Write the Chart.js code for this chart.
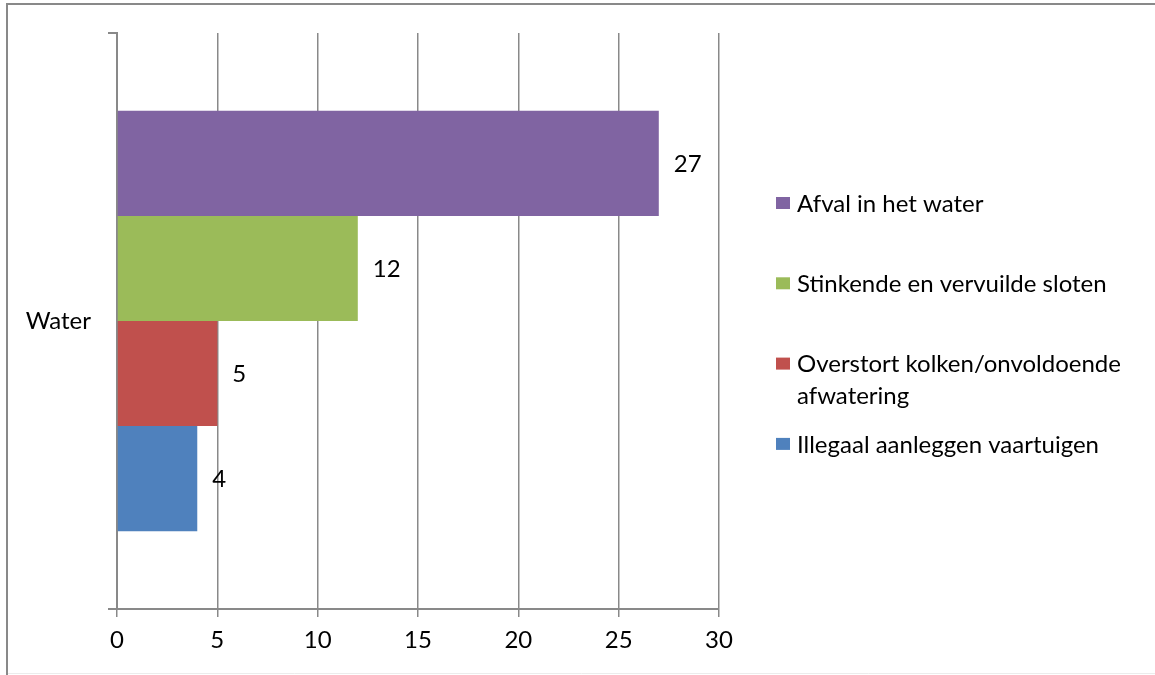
<!DOCTYPE html>
<html>
<head>
<meta charset="utf-8">
<script src="https://cdn.jsdelivr.net/npm/chart.js@4.4.1/dist/chart.umd.min.js"></script>
<style>
  html, body { margin: 0; padding: 0; background: #fff; }
</style>
</head>
<body>
<canvas id="barChart_water" width="1155" height="675"></canvas>
<script>
const categories = ["Water"];
const seriesNames = [
  "Afval in het water",
  "Stinkende en vervuilde sloten",
  "Overstort kolken/onvoldoende afwatering",
  "Illegaal aanleggen vaartuigen",
];
const seriesValues = [27, 12, 5, 4];
const seriesColors = ["#8064A2", "#9BBB59", "#C0504D", "#4F81BD"];
const xTicks = [0, 5, 10, 15, 20, 25, 30];

const AXIS_GREY = "#898989";
const FONT = "Lato, 'Open Sans', sans-serif";
const FONT_SIZE = 24;

Chart.defaults.font.family = FONT;
Chart.defaults.font.size = FONT_SIZE;
Chart.defaults.color = "#000";

// white page with the thin grey frame round the chart
const framePlugin = {
  id: "frame",
  beforeDraw(chart) {
    const { ctx, width, height } = chart;
    ctx.save();
    ctx.fillStyle = "#fff";
    ctx.fillRect(0, 0, width, height);
    ctx.strokeStyle = AXIS_GREY;
    ctx.lineWidth = 2;
    ctx.beginPath();
    ctx.moveTo(7, height);
    ctx.lineTo(7, 4);
    ctx.lineTo(width, 4);
    ctx.stroke();
    ctx.strokeStyle = "#ececec";
    ctx.lineWidth = 1;
    ctx.beginPath();
    ctx.moveTo(8, height - 1.5);
    ctx.lineTo(width, height - 1.5);
    ctx.stroke();
    ctx.restore();
  },
};

// value written just past the end of each bar
const valueLabelPlugin = {
  id: "valueLabels",
  afterDatasetsDraw(chart) {
    const { ctx } = chart;
    ctx.save();
    ctx.font = `${FONT_SIZE}px ${FONT}`;
    ctx.fillStyle = "#000";
    ctx.textAlign = "left";
    ctx.textBaseline = "middle";
    chart.data.datasets.forEach((ds, i) => {
      const meta = chart.getDatasetMeta(i);
      meta.data.forEach((bar, j) => {
        ctx.fillText(String(ds.data[j]), bar.x + 15, bar.y + 1);
      });
    });
    ctx.restore();
  },
};

function wrapText(ctx, text, maxWidth) {
  const words = text.split(" ");
  const lines = [];
  let line = "";
  words.forEach((w) => {
    const test = line ? line + " " + w : w;
    if (line && ctx.measureText(test).width > maxWidth) {
      lines.push(line);
      line = w;
    } else {
      line = test;
    }
  });
  if (line) lines.push(line);
  return lines;
}

// legend on the right, long names wrap onto a second line
const sideLegendPlugin = {
  id: "sideLegend",
  afterDraw(chart) {
    const { ctx } = chart;
    const boxX = 776, textX = 797, firstY = 203, pitch = 80.3, lineH = 32;
    ctx.save();
    ctx.font = `${FONT_SIZE}px ${FONT}`;
    ctx.textAlign = "left";
    ctx.textBaseline = "middle";
    chart.data.datasets.forEach((ds, i) => {
      const y = firstY + i * pitch;
      ctx.fillStyle = ds.backgroundColor;
      ctx.fillRect(boxX, y - 6, 14, 12);
      ctx.fillStyle = "#000";
      wrapText(ctx, ds.label, chart.width - textX - 12).forEach((ln, k) => {
        ctx.fillText(ln, textX, y + 1 + k * lineH);
      });
    });
    ctx.restore();
  },
};

const ctx = document.getElementById("barChart_water").getContext("2d");

const barChart = new Chart(ctx, {
  type: "bar",
  data: {
    labels: categories,
    datasets: seriesNames.map((name, i) => ({
      label: name,
      data: [seriesValues[i]],
      backgroundColor: seriesColors[i],
      borderWidth: 0,
    })),
  },
  options: {
    indexAxis: "y",
    responsive: false,
    animation: false,
    layout: { padding: { top: 33, right: 436, left: 0, bottom: 0 } },
    datasets: { bar: { categoryPercentage: 0.73, barPercentage: 1 } },
    plugins: {
      legend: { display: false },
      tooltip: { enabled: false },
    },
    scales: {
      x: {
        min: xTicks[0],
        max: xTicks[xTicks.length - 1],
        ticks: { stepSize: xTicks[1] - xTicks[0], padding: 9 },
        grid: { color: AXIS_GREY, lineWidth: 1.5, tickLength: 8 },
        border: { color: AXIS_GREY, width: 2 },
        afterFit(scale) {
          scale.height = 66;
        },
      },
      y: {
        grid: { drawOnChartArea: false, color: AXIS_GREY, lineWidth: 2, tickLength: 9 },
        border: { color: AXIS_GREY, width: 2 },
        ticks: { padding: 17 },
        afterFit(scale) {
          scale.width = 117;
        },
      },
    },
  },
  plugins: [framePlugin, valueLabelPlugin, sideLegendPlugin],
});
</script>
</body>
</html>
